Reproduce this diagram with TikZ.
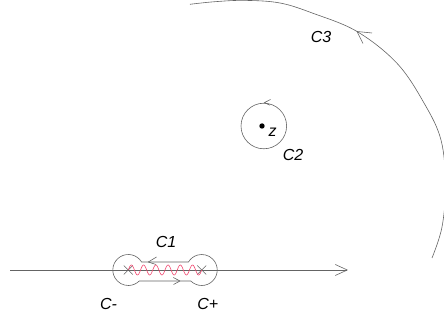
\documentclass[tikz,border=0pt]{standalone}
\usepackage{fontspec}
\setmainfont{Liberation Sans}
\usetikzlibrary{arrows.meta}
\definecolor{wavered}{RGB}{240,70,110}
\definecolor{linegray}{RGB}{100,100,100}
\begin{document}
\begin{tikzpicture}[x=1pt,y=1pt,
  line/.style={draw=linegray, line width=0.6pt},
  lab/.style={font=\fontsize{16}{16}\selectfont\itshape, inner sep=0pt},
  wave/.style={draw=wavered, line width=0.6pt}]
\useasboundingbox (0,0) rectangle (444,320);
\clip (0,0) rectangle (444,320);
% real axis
\coordinate (axL) at (10,50);
\coordinate (axR) at (348,50);
\draw[line, -{Straight Barb[length=12pt,width=11pt]}] (axL) -- (axR);
% keyhole contour C1
\coordinate (L) at (128.3,50);
\coordinate (R) at (201.7,50);
\draw[line] (139.2,39) -- (190.8,39) arc[start angle=225.2, end angle=508.9, radius=15.5]
  -- (141.6,58) arc[start angle=31.1, end angle=314.8, radius=15.5] -- cycle;
\draw[line] (148.3,58) -- (156.5,63) (148.3,58) -- (156,55.5);
\draw[line] (180,39) -- (173.3,42.5) (180,39) -- (173.5,35.5);
% branch points
\draw[line] (L) +(-4.5,-4.5) -- +(4.5,4.5) (L) +(-4.5,4.5) -- +(4.5,-4.5);
\draw[line] (R) +(-4.5,-4.5) -- +(4.5,4.5) (R) +(-4.5,4.5) -- +(4.5,-4.5);
% branch cut
\draw[wave] plot[domain=0:73.4, samples=160, smooth] ({\x+128.3},{50+5*sin(29.428*\x)});
% C2
\coordinate (zc) at (263.8,194);
\draw[line] (zc) circle[radius=22.8];
\draw[line] (264.3,217.3) -- (270.5,220.5) (264.3,217.3) -- (270,214.8);
\fill (262,194) circle[radius=2.7];
% C3
\draw[line] plot[smooth, tension=0.6] coordinates {(190,315.7) (215,318.3) (245,319.6) (280,317) (313,306.7) (357,288.5) (397,256.7) (424,217) (441,180) (445.5,135) (442,93) (432,62)};
\draw[line] (357,288.5) -- (372,287) (357,288.5) -- (363,276.5);
% labels
\node[lab] (tz) at (272.7,188) {z};
\node[lab] (tC1) at (166,78) {C1};
\node[lab] (tCm) at (108.5,16) {C-};
\node[lab] (tCp) at (207.7,16) {C+};
\node[lab] (tC2) at (293,165) {C2};
\node[lab] (tC3) at (321,283) {C3};
\end{tikzpicture}
\end{document}
